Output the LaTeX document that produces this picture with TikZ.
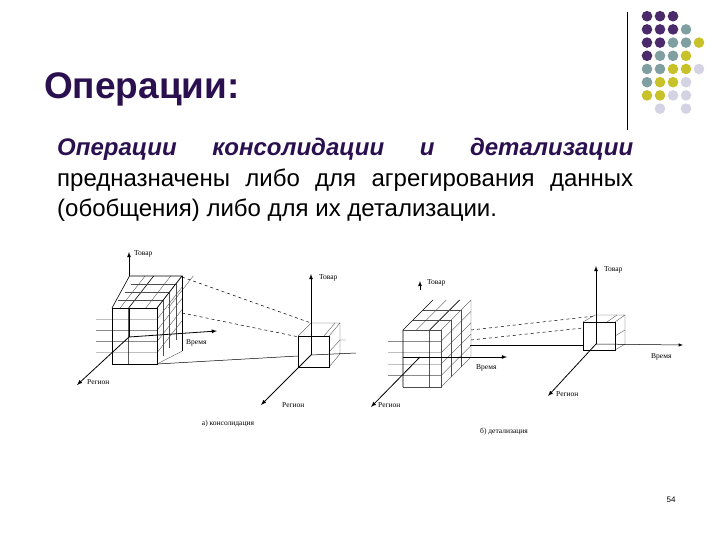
\documentclass[tikz,border=0pt]{standalone}
\usepackage{fontspec}
\setmainfont{Liberation Sans}
\newfontfamily\tnr{Liberation Serif}
\begin{document}
\begin{tikzpicture}[x=1pt,y=-1pt,
  ax/.style={-latex,line width=0.8pt},
  thin grid/.style={line width=0.35pt,black!70},
  lbl/.style={font=\tnr\fontsize{7.5}{8}\selectfont,inner sep=1pt,anchor=west},
  capt/.style={font=\tnr\fontsize{7.5}{8}\selectfont,inner sep=1pt}]
\definecolor{dP}{HTML}{4B2A6B}\definecolor{dT}{HTML}{7F9FA0}
\definecolor{dY}{HTML}{C8C22A}\definecolor{dG}{HTML}{D3D3E3}
\definecolor{tP}{HTML}{2B1050}
\useasboundingbox[fill=white] (0,0) rectangle (720,540);
% decoration
\draw[line width=0.8pt] (627,12) -- (627,130);
\foreach \c/\r/\col in {1/1/dP,2/1/dP,3/1/dP,
 1/2/dP,2/2/dP,3/2/dP,4/2/dT,
 1/3/dP,2/3/dP,3/3/dT,4/3/dT,5/3/dY,
 1/4/dP,2/4/dT,3/4/dT,4/4/dY,
 1/5/dT,2/5/dT,3/5/dY,4/5/dY,5/5/dG,
 1/6/dT,2/6/dY,3/6/dY,4/6/dG,
 1/7/dY,2/7/dY,3/7/dG,4/7/dG,
 2/8/dG,4/8/dG}
 \fill[\col] ({634+13*\c},{3+13.2*\r}) circle (5.3);
% title and text
\node[anchor=west,font=\bfseries\fontsize{37}{40}\selectfont,inner sep=0,text=tP] (title) at (44,89) {Операции:};
\node[anchor=north west,inner sep=0,text width=576pt,align=justify,font=\fontsize{24}{30.5}\selectfont] (body) at (57,138)
 {\textcolor{tP}{\textbf{\textit{Операции консолидации и детализации}}} предназначены либо для агрегирования данных (обобщения) либо для их детализации.};
\node[font=\fontsize{8}{9}\selectfont] (pg) at (671,500) {54};
% ===== left diagram =====
\begin{scope}[shift={(112,364)}]
 \def\W{45}\def\H{56}\def\dx{25}\def\dy{-32}
 \foreach \t in {0.2,0.4,0.6,0.8}{
   \draw[thin grid] (-16,-\H*\t) -- (\W,-\H*\t) -- ++(\dx,\dy);}
 \foreach \t in {0.37}{\draw[line width=0.6pt] (\W*\t,0) -- (\W*\t,-\H) -- ++(\dx,\dy);}
 \foreach \t in {0.25,0.5,0.75}{
   \draw[thin grid] (\W+\dx*\t,\dy*\t) -- (\W+\dx*\t,-\H+\dy*\t) -- ++(-\W,0);
   \draw[thin grid] (\W*\t+0.5*\W,-\H) -- ++(\dx,\dy);}
 \draw[thin grid] (\W*0.18,-\H) -- ++(\dx,\dy);
 \draw[line width=0.6pt] (0,0) rectangle (\W,-\H);
 \draw[line width=0.6pt] (0,-\H) -- ++(\dx*0.7,\dy) -- (\W+\dx,-\H+\dy) -- (\W,-\H);
 \draw[line width=0.6pt] (\W+\dx,-\H+\dy) -- (\W+\dx,\dy*0.4);
 \draw[thin grid] (\W,0) -- (\W+\dx,\dy*0.4);
\end{scope}
\coordinate (LO) at (129,337);
\draw[line width=0.6pt] (129,308) -- (LO);
\draw[ax] (129,276) -- (129,252);
\node[lbl] (lt1) at (133,254) {Товар};
\draw[ax] (LO) -- (77,385);
\node[lbl] (lr1) at (86,382) {Регион};
\draw[ax] (LO) -- (217,331);
\node[lbl] (ltm) at (185,343) {Время};
\draw[dashed,line width=0.5pt] (182,277) -- (311,323);
\draw[dashed,line width=0.5pt] (182,313) -- (299,337);
\draw[line width=0.5pt] (157,364) -- (298,356);
\begin{scope}[shift={(298,367)}]
 \draw[thin grid] (0,-31) -- ++(13,-13) -- ++(29,0) -- (31,-31);
 \draw[thin grid] (42,-44) -- ++(0,31) -- (31,0);
 \draw[thin grid] (31,-15) -- ++(11,-12) -- ++(6,0);
 \draw[thin grid] (26,-31) -- ++(11,-13);
 \draw[line width=0.5pt] (0,0) rectangle (31,-31);
\end{scope}
\coordinate (SO) at (311,355);
\draw[ax] (SO) -- (311,274);
\node[lbl] (lt2) at (318,278) {Товар};
\draw[ax] (SO) -- (261,405);
\node[lbl] (lr2) at (281,405) {Регион};
\draw[line width=0.5pt] (SO) -- (356,353);
\node[capt] (c1) at (228,424) {а) консолидация};
% ===== right diagram =====
\begin{scope}[shift={(403,387)}]
 \def\W{38}\def\H{57}\def\dx{30}\def\dy{-30}
 \foreach \t in {0.2,0.4,0.6,0.8}{
   \draw[thin grid] (-15,-\H*\t) -- (\W,-\H*\t) -- ++(\dx,\dy);}
 \foreach \t in {0,0.7}{\draw[line width=0.6pt] (\W*\t,0) -- (\W*\t,-\H) -- ++(\dx,\dy);}
 \foreach \t in {0.33,0.66}{
   \draw[thin grid] (\W+\dx*\t,\dy*\t) -- (\W+\dx*\t,-\H+\dy*\t) -- ++(-\W,0);}
 \draw[thin grid] (0,0) -- (\W,0) -- (\W,-\H) -- (0,-\H);
 \draw[thin grid] (\W,-\H) -- ++(\dx,\dy) -- ++(0,\H) -- (\W,0);
 \draw[thin grid] (\W*0.35,-\H) -- ++(\dx,\dy);
\end{scope}
\coordinate (RO) at (420,357);
\draw[ax] (420,290) -- (420,281);
\node[lbl] (rt1) at (426,283) {Товар};
\draw[line width=0.6pt] (403,357) -- (RO);
\draw[ax] (RO) -- (507,357);
\node[lbl] (rtm) at (475,368) {Время};
\draw[ax] (RO) -- (371,407);
\node[lbl] (rr1) at (377,405) {Регион};
\draw[dashed,line width=0.5pt] (471,330) -- (595,316);
\draw[dashed,line width=0.5pt] (471,340) -- (583,328);
\draw[line width=0.5pt] (470,345) -- (583,345);
\begin{scope}[shift={(583,350)}]
 \draw[thin grid] (0,-28) -- ++(12,-7) -- ++(30,0) -- (32,-28);
 \draw[thin grid] (42,-35) -- ++(0,29) -- (32,0);
 \draw[thin grid] (32,-14) -- ++(10,-6);
 \draw[thin grid] (24,-28) -- ++(10,-7);
 \draw[line width=0.5pt] (0,0) rectangle (32,-28);
\end{scope}
\coordinate (RS) at (596,344);
\draw[ax] (RS) -- (596,266);
\node[lbl] (rt2) at (603,270) {Товар};
\draw[line width=0.5pt,-latex] (RS) -- (683,345);
\node[lbl] (rtm2) at (650,357) {Время};
\draw[ax] (RS) -- (548,396);
\node[lbl] (rr2) at (555,394) {Регион};
\node[capt] (c2) at (504,432) {б) детализация};
\end{tikzpicture}
\end{document}
